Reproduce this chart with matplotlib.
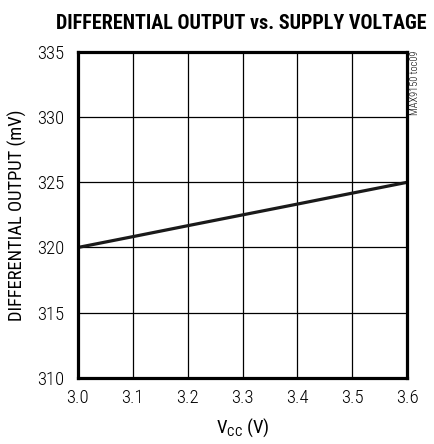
import matplotlib
matplotlib.use("Agg")
import matplotlib.pyplot as plt

# schmale Schrift wie im Datenblatt
plt.rcParams["font.family"] = ["Roboto Condensed", "DejaVu Sans"]
plt.rcParams["font.weight"] = "light"
plt.rcParams["mathtext.fontset"] = "custom"
plt.rcParams["mathtext.rm"] = "Roboto Condensed:light"

# Daten
vcc = [3.0, 3.1, 3.2, 3.3, 3.4, 3.5, 3.6]
ausgang = [320.0, 320.83, 321.67, 322.5, 323.33, 324.17, 325.0]
xticks = [3.0, 3.1, 3.2, 3.3, 3.4, 3.5, 3.6]
yticks = [310, 315, 320, 325, 330, 335]

fig = plt.figure(figsize=(4.35, 4.44), dpi=100)
ax = fig.add_axes([0.179, 0.149, 0.757, 0.734])

ax.plot(vcc, ausgang, color="#1a1a1a", lw=2.3, solid_capstyle="butt")

ax.set_xlim(3.0, 3.6)
ax.set_ylim(310, 335)
ax.set_xticks(xticks)
ax.set_xticklabels(["%.1f" % v for v in xticks])
ax.set_yticks(yticks)
ax.grid(True, color="black", lw=0.9)
ax.tick_params(axis="x", length=0, labelsize=13.5, pad=8)
ax.tick_params(axis="y", length=0, labelsize=13.5, pad=10)
for s in ax.spines.values():
    s.set_linewidth(2.3)

ax.set_xlabel(r"V$_{\mathregular{CC}}$ (V)", fontsize=13.5, labelpad=7)
ax.set_ylabel("DIFFERENTIAL OUTPUT (mV)", fontsize=13.3, labelpad=7)

fig.text(0.554, 0.948, "DIFFERENTIAL OUTPUT vs. SUPPLY VOLTAGE",
         ha="center", va="center", fontsize=14.5, fontweight="bold")
fig.text(0.955, 0.887, "MAX9150 toc09", rotation=90, ha="center", va="top",
         fontsize=7.5)

fig.savefig("out.png", dpi=100)
